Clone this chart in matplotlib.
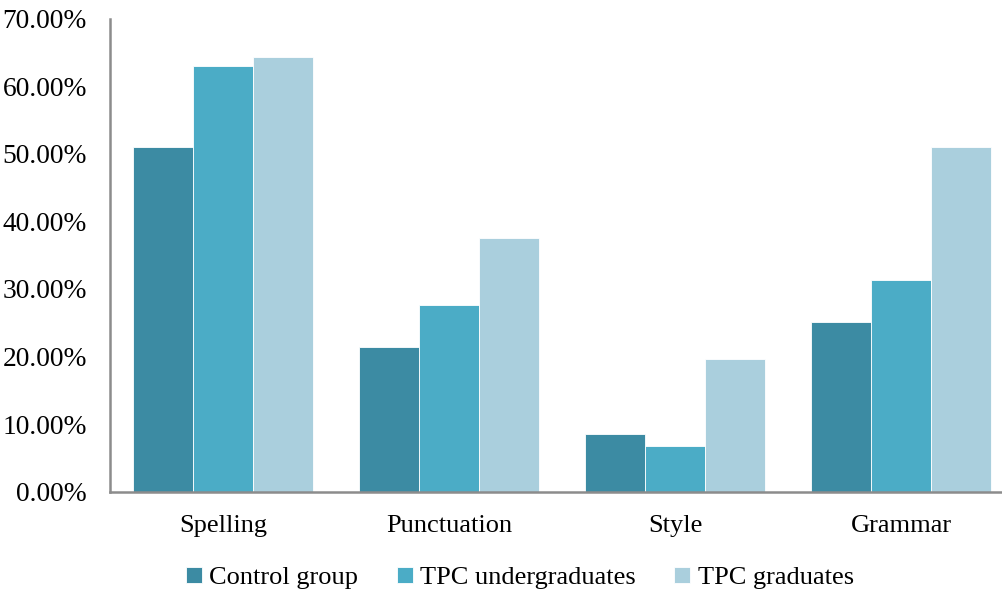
import matplotlib
matplotlib.use("Agg")
import matplotlib.pyplot as plt
import numpy as np
from matplotlib.ticker import FuncFormatter

categories = ["Spelling", "Punctuation", "Style", "Grammar"]
series_names = ["Control group", "TPC undergraduates", "TPC graduates"]
control = [50.95, 21.4, 8.5, 25.15]
undergrad = [62.9, 27.6, 6.8, 31.25]
graduates = [64.25, 37.55, 19.6, 51.0]
colors = ["#3C8BA3", "#4BACC6", "#AACFDD"]

plt.rcParams['font.family'] = ['Liberation Serif', 'DejaVu Serif']

W, H = 1003, 594
fig = plt.figure(figsize=(W/100, H/100), dpi=100)
left, right, top, bottom = 110, 1014, 18.5, 491.7
ax = fig.add_axes([left/W, 1-bottom/H, (right-left)/W, (bottom-top)/H])

x = np.arange(len(categories))
bw = 0.265
for i, (vals, name, c) in enumerate(zip([control, undergrad, graduates], series_names, colors)):
    ax.bar(x + (i-1)*bw, vals, bw, color=c, label=name, edgecolor='white', linewidth=0.6)

ax.set_xlim(-0.5, 3.5)
ax.set_ylim(0, 70)
ax.set_yticks(np.arange(0, 71, 10))
ax.yaxis.set_major_formatter(FuncFormatter(lambda v, p: f"{v:.2f}%"))
ax.set_xticks(x)
ax.set_xticklabels(categories)
ax.tick_params(axis='y', length=0, pad=16.5, labelsize=19.8)
ax.tick_params(axis='x', length=0, pad=16.5, labelsize=19)
for s in ['top', 'right']:
    ax.spines[s].set_visible(False)
for s in ['left', 'bottom']:
    ax.spines[s].set_color('#8C8C8C')
    ax.spines[s].set_linewidth(1.8)

fig.legend(loc='center', bbox_to_anchor=(520/W, 1-578/H), ncol=3, frameon=False,
           fontsize=19, handlelength=0.6, handleheight=0.6, handletextpad=0.3,
           columnspacing=1.45)

fig.savefig("out.png", dpi=100)
